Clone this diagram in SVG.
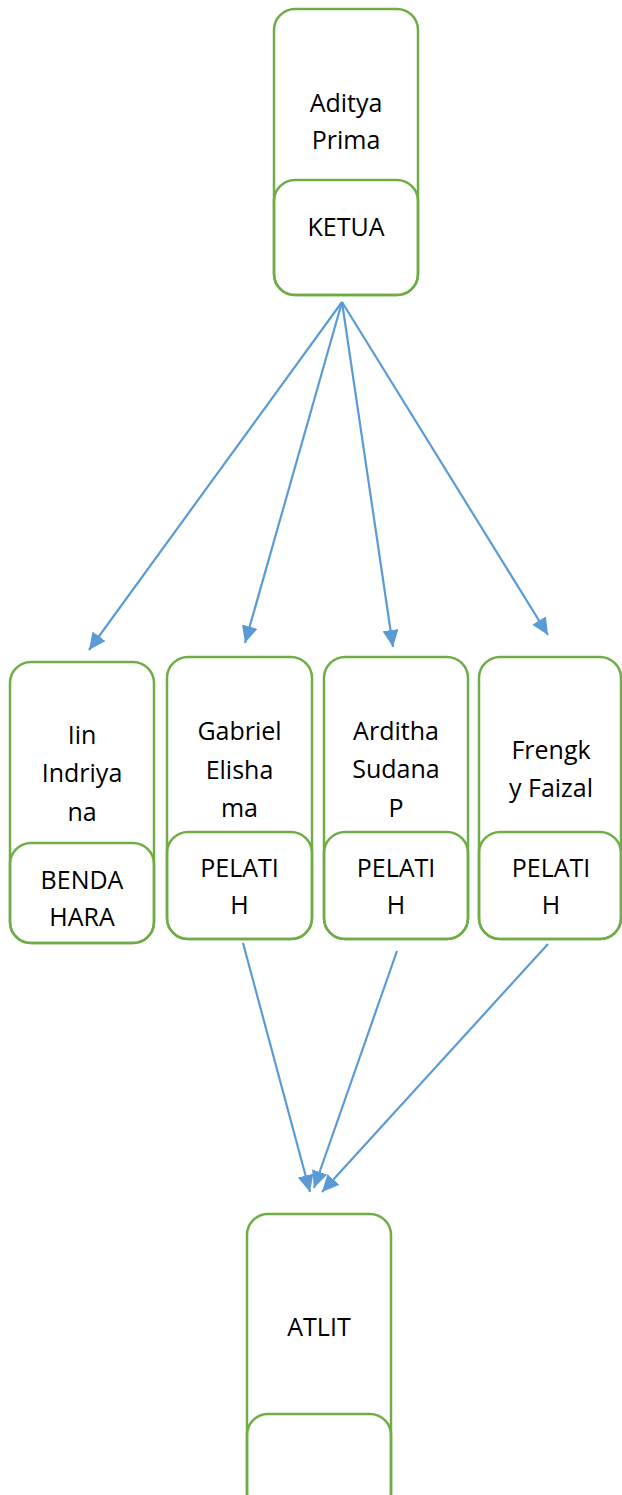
<svg xmlns="http://www.w3.org/2000/svg" width="622" height="1495" viewBox="0 0 622 1495">
  <style>
    .box { fill: none; stroke: #70AD47; stroke-width: 2.5; }
    .lbl { font-family: "Open Sans", "Liberation Sans", sans-serif; font-size: 25px; fill: #000; text-anchor: middle; }
    .link { stroke: #5B9BD5; stroke-width: 2.2; fill: none; marker-end: url(#head); }
  </style>
  <defs>
    <marker id="head" markerUnits="userSpaceOnUse" markerWidth="18" markerHeight="16" refX="17" refY="8" orient="auto">
      <path d="M0,0 L17,8 L0,16 Z" fill="#5B9BD5"/>
    </marker>
  </defs>
  <rect width="622" height="1495" fill="#fff"/>

  <g id="connectors">
    <line class="link" x1="342" y1="302" x2="89" y2="650"/>
    <line class="link" x1="342" y1="302" x2="245" y2="643"/>
    <line class="link" x1="342" y1="302" x2="393" y2="647"/>
    <line class="link" x1="342" y1="302" x2="548" y2="635"/>
    <line class="link" x1="243" y1="943" x2="310" y2="1192"/>
    <line class="link" x1="397" y1="951" x2="314" y2="1188"/>
    <line class="link" x1="548" y1="944" x2="322" y2="1192"/>
  </g>

  <g id="ketua">
    <rect class="box" x="274" y="9" width="144" height="286" rx="21"/>
    <rect class="box" x="274" y="180" width="144" height="115" rx="21"/>
    <text class="lbl" x="346" y="112">Aditya</text>
    <text class="lbl" x="346" y="149">Prima</text>
    <text class="lbl" x="346" y="236">KETUA</text>
  </g>

  <g id="bendahara">
    <rect class="box" x="10" y="662" width="144" height="281" rx="21"/>
    <rect class="box" x="10" y="843" width="144" height="100" rx="21"/>
    <text class="lbl" x="82" y="744">Iin</text>
    <text class="lbl" x="82" y="782">Indriya</text>
    <text class="lbl" x="82" y="821">na</text>
    <text class="lbl" x="82" y="889">BENDA</text>
    <text class="lbl" x="82" y="926">HARA</text>
  </g>

  <g id="pelatih-gabriel">
    <rect class="box" x="167" y="657" width="145" height="282" rx="21"/>
    <rect class="box" x="167" y="832" width="145" height="107" rx="21"/>
    <text class="lbl" x="239.5" y="740">Gabriel</text>
    <text class="lbl" x="239.5" y="779">Elisha</text>
    <text class="lbl" x="239.5" y="817">ma</text>
    <text class="lbl" x="239.5" y="877">PELATI</text>
    <text class="lbl" x="239.5" y="914">H</text>
  </g>

  <g id="pelatih-arditha">
    <rect class="box" x="324" y="657" width="144" height="282" rx="21"/>
    <rect class="box" x="324" y="832" width="144" height="107" rx="21"/>
    <text class="lbl" x="396" y="740">Arditha</text>
    <text class="lbl" x="396" y="778">Sudana</text>
    <text class="lbl" x="396" y="817">P</text>
    <text class="lbl" x="396" y="877">PELATI</text>
    <text class="lbl" x="396" y="914">H</text>
  </g>

  <g id="pelatih-frengky">
    <rect class="box" x="479" y="657" width="142" height="282" rx="21"/>
    <rect class="box" x="479" y="832" width="142" height="107" rx="21"/>
    <text class="lbl" x="551" y="759">Frengk</text>
    <text class="lbl" x="551" y="797">y Faizal</text>
    <text class="lbl" x="551" y="877">PELATI</text>
    <text class="lbl" x="551" y="914">H</text>
  </g>

  <g id="atlit">
    <rect class="box" x="247" y="1214" width="144" height="300" rx="21"/>
    <rect class="box" x="247" y="1414" width="144" height="100" rx="21"/>
    <text class="lbl" x="319" y="1336">ATLIT</text>
  </g>
</svg>
